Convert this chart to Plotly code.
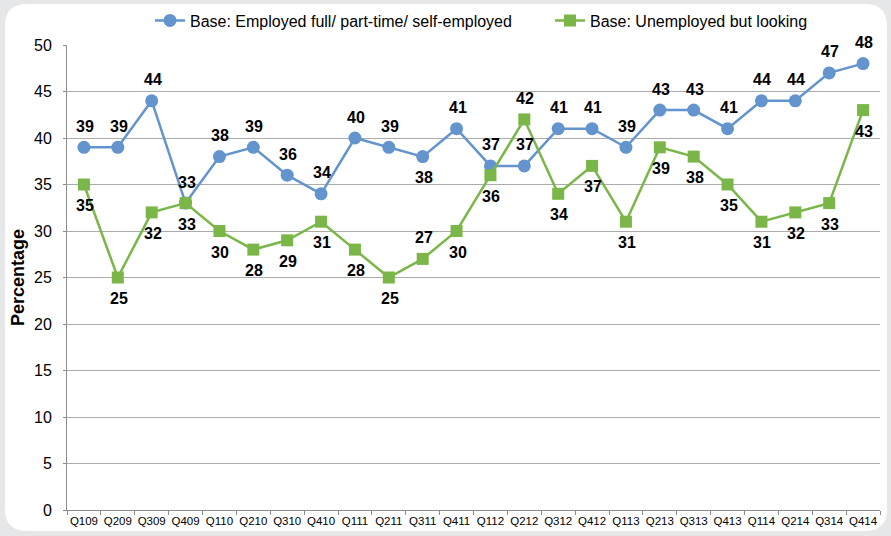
import plotly.graph_objects as go

quarters = ["Q109","Q209","Q309","Q409","Q110","Q210","Q310","Q410","Q111","Q211","Q311","Q411",
            "Q112","Q212","Q312","Q412","Q113","Q213","Q313","Q413","Q114","Q214","Q314","Q414"]
employed = [39,39,44,33,38,39,36,34,40,39,38,41,37,37,41,41,39,43,43,41,44,44,47,48]
unemployed = [35,25,32,33,30,28,29,31,28,25,27,30,36,42,34,37,31,39,38,35,31,32,33,43]
# +1 = label above the point, -1 = label below
emp_label_side = [1]*24
emp_label_side[10] = -1
unemp_label_side = [-1]*24
unemp_label_side[10] = 1
unemp_label_side[13] = 1

BLUE = "#6394CE"
GREEN = "#7AB648"
FONT = "Liberation Sans, Arial, Helvetica"
W, H = 891, 536
ml, mr, mt, mb = 67, 11, 45, 26
pw, ph = W - ml - mr, H - mt - mb

def P(x, y):
    return f"{(x - ml) / pw:.5f},{1 - (y - mt) / ph:.5f}"

# rounded white card
x0, y0, x1, y1, r = 5, 4, 887, 531, 22
path = (f"M {P(x0+r,y0)} L {P(x1-r,y0)} Q {P(x1,y0)} {P(x1,y0+r)} L {P(x1,y1-r)} "
        f"Q {P(x1,y1)} {P(x1-r,y1)} L {P(x0+r,y1)} Q {P(x0,y1)} {P(x0,y1-r)} "
        f"L {P(x0,y0+r)} Q {P(x0,y0)} {P(x0+r,y0)} Z")

fig = go.Figure()
fig.add_trace(go.Scatter(
    x=quarters, y=employed, name="Base: Employed full/ part-time/ self-employed",
    mode="lines+markers", legend="legend",
    line=dict(color=BLUE, width=2.5), marker=dict(symbol="circle", size=13, color=BLUE),
    cliponaxis=False))
fig.add_trace(go.Scatter(
    x=quarters, y=unemployed, name="Base: Unemployed but looking",
    mode="lines+markers", legend="legend2",
    line=dict(color=GREEN, width=2.5), marker=dict(symbol="square", size=12, color=GREEN),
    cliponaxis=False))

annotations = []
for vals, sides in ((employed, emp_label_side), (unemployed, unemp_label_side)):
    for q, v, s in zip(quarters, vals, sides):
        annotations.append(dict(x=q, y=v, text=f"<b>{v}</b>", showarrow=False,
                                yshift=21 * s, xshift=1,
                                font=dict(family=FONT, size=16, color="black")))

leg_common = dict(orientation="h", xanchor="left", y=1.016, yanchor="bottom",
                  font=dict(size=16), bgcolor="rgba(0,0,0,0)", itemwidth=30)

fig.update_layout(
    width=W, height=H,
    margin=dict(l=ml, r=mr, t=mt, b=mb, autoexpand=False),
    paper_bgcolor="#E6E7E9", plot_bgcolor="rgba(0,0,0,0)",
    font=dict(family=FONT, color="black"),
    shapes=[dict(type="path", xref="paper", yref="paper", path=path,
                 fillcolor="white", line=dict(width=0), layer="below")],
    annotations=annotations,
    showlegend=True,
    legend=dict(x=(150 - ml) / pw, **leg_common),
    legend2=dict(x=(550 - ml) / pw, **leg_common),
    xaxis=dict(type="category", showgrid=False, showline=True, linecolor="#8c8c8c",
               ticks="outside", ticklen=4, tickcolor="#8c8c8c", tickson="boundaries",
               tickangle=0, automargin=False,
               tickfont=dict(size=11.5), range=[-0.5, 23.5]),
    yaxis=dict(range=[0, 50], dtick=5, showgrid=True, gridcolor="#ABABAB", gridwidth=1,
               showline=True, linecolor="#8c8c8c", ticks="outside", ticklen=3,
               tickcolor="#8c8c8c", tickfont=dict(size=16), zeroline=False,
               ticklabelstandoff=8, automargin=False,
               title=dict(text="<b>Percentage</b>", font=dict(size=18), standoff=4)),
)
fig.write_html("out.html")
